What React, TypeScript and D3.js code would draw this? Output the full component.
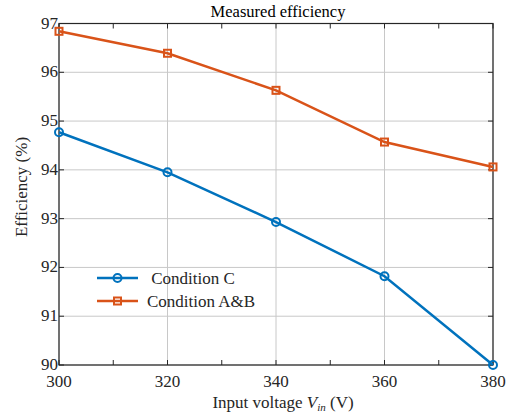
import React from "react";
import * as d3 from "d3";

const voltages = [300, 320, 340, 360, 380];
const conditionC = [94.77, 93.95, 92.93, 91.82, 90.0];
const conditionAB = [96.84, 96.39, 95.63, 94.57, 94.06];
const xTicks = [300, 320, 340, 360, 380];
const xMinorTicks = [310, 330, 350, 370];
const yTicks = [90, 91, 92, 93, 94, 95, 96, 97];
const seriesNames = [" Condition C", "Condition A&B"];
const colors = ["#0072BD", "#D95319"];

export default function App() {
  const W = 521, H = 418;
  const left = 59, right = 493, top = 23.5, bottom = 365;
  const x = d3.scaleLinear().domain([300, 380]).range([left, right]);
  const y = d3.scaleLinear().domain([90, 97]).range([bottom, top]);
  const line = d3.line<number>().x((_, i) => x(voltages[i])).y((d) => y(d));
  const font = "'Liberation Serif', 'Times New Roman', serif";
  const ts = { fontFamily: font };
  return (
    <svg width={W} height={H} style={{ position: "absolute", left: 0, top: 0, background: "#fff", fontFamily: font }}>
      <rect x={0} y={0} width={W} height={H} fill="#fff" />
      {xTicks.map((t) => (
        <line key={"gx" + t} x1={x(t)} x2={x(t)} y1={top} y2={bottom} stroke="#c8c8c8" strokeWidth={1} />
      ))}
      {yTicks.map((t) => (
        <line key={"gy" + t} x1={left} x2={right} y1={y(t)} y2={y(t)} stroke="#c8c8c8" strokeWidth={1} />
      ))}
      {[...xTicks, ...xMinorTicks].map((t) => (
        <g key={"tx" + t}>
          <line x1={x(t)} x2={x(t)} y1={bottom} y2={bottom - 5} stroke="#262626" />
          <line x1={x(t)} x2={x(t)} y1={top} y2={top + 5} stroke="#262626" />
        </g>
      ))}
      {yTicks.map((t) => (
        <g key={"ty" + t}>
          <line x1={left} x2={left + 5} y1={y(t)} y2={y(t)} stroke="#262626" />
          <line x1={right} x2={right - 5} y1={y(t)} y2={y(t)} stroke="#262626" />
        </g>
      ))}
      <rect x={left} y={top} width={right - left} height={bottom - top} fill="none" stroke="#262626" strokeWidth={1.2} />
      {xTicks.map((t) => (
        <text key={"lx" + t} x={x(t)} y={bottom + 22} textAnchor="middle" fontSize={17} fill="#262626" style={ts}>{t}</text>
      ))}
      {yTicks.map((t) => (
        <text key={"ly" + t} x={left - 1} y={y(t) + 5} textAnchor="end" fontSize={17} fill="#262626" style={ts}>{t}</text>
      ))}
      {[conditionC, conditionAB].map((s, si) => (
        <g key={"s" + si}>
          <path d={line(s) || ""} fill="none" stroke={colors[si]} strokeWidth={2.5} />
          {s.map((v, i) =>
            si === 0 ? (
              <circle key={i} cx={x(voltages[i])} cy={y(v)} r={4} fill="none" stroke={colors[si]} strokeWidth={2} />
            ) : (
              <rect key={i} x={x(voltages[i]) - 3.5} y={y(v) - 3.5} width={7} height={7} fill="none" stroke={colors[si]} strokeWidth={2} />
            )
          )}
        </g>
      ))}
      {seriesNames.map((n, i) => {
        const ly = 278 + i * 23;
        return (
          <g key={"lg" + i}>
            <line x1={97} x2={138} y1={ly} y2={ly} stroke={colors[i]} strokeWidth={2.5} />
            {i === 0 ? (
              <circle cx={117.5} cy={ly} r={4} fill="none" stroke={colors[i]} strokeWidth={2} />
            ) : (
              <rect x={114} y={ly - 3.5} width={7} height={7} fill="none" stroke={colors[i]} strokeWidth={2} />
            )}
            <text x={147} y={ly + 6} fontSize={17} fill="#262626" style={{ ...ts, whiteSpace: "pre" }}>{n}</text>
          </g>
        );
      })}
      <text x={(left + right) / 2 + 2} y={17} textAnchor="middle" fontSize={16.5} fill="#000" style={ts}>Measured efficiency</text>
      <text x={283} y={408} textAnchor="middle" fontSize={17} fill="#262626" style={ts}>
        Input voltage <tspan fontStyle="italic">V</tspan><tspan fontStyle="italic" fontSize={11} dy={3}>in</tspan><tspan dy={-3}> (V)</tspan>
      </text>
      <text transform={`translate(27, 187) rotate(-90)`} textAnchor="middle" fontSize={17} fill="#262626" style={ts}>Efficiency (%)</text>
    </svg>
  );
}
